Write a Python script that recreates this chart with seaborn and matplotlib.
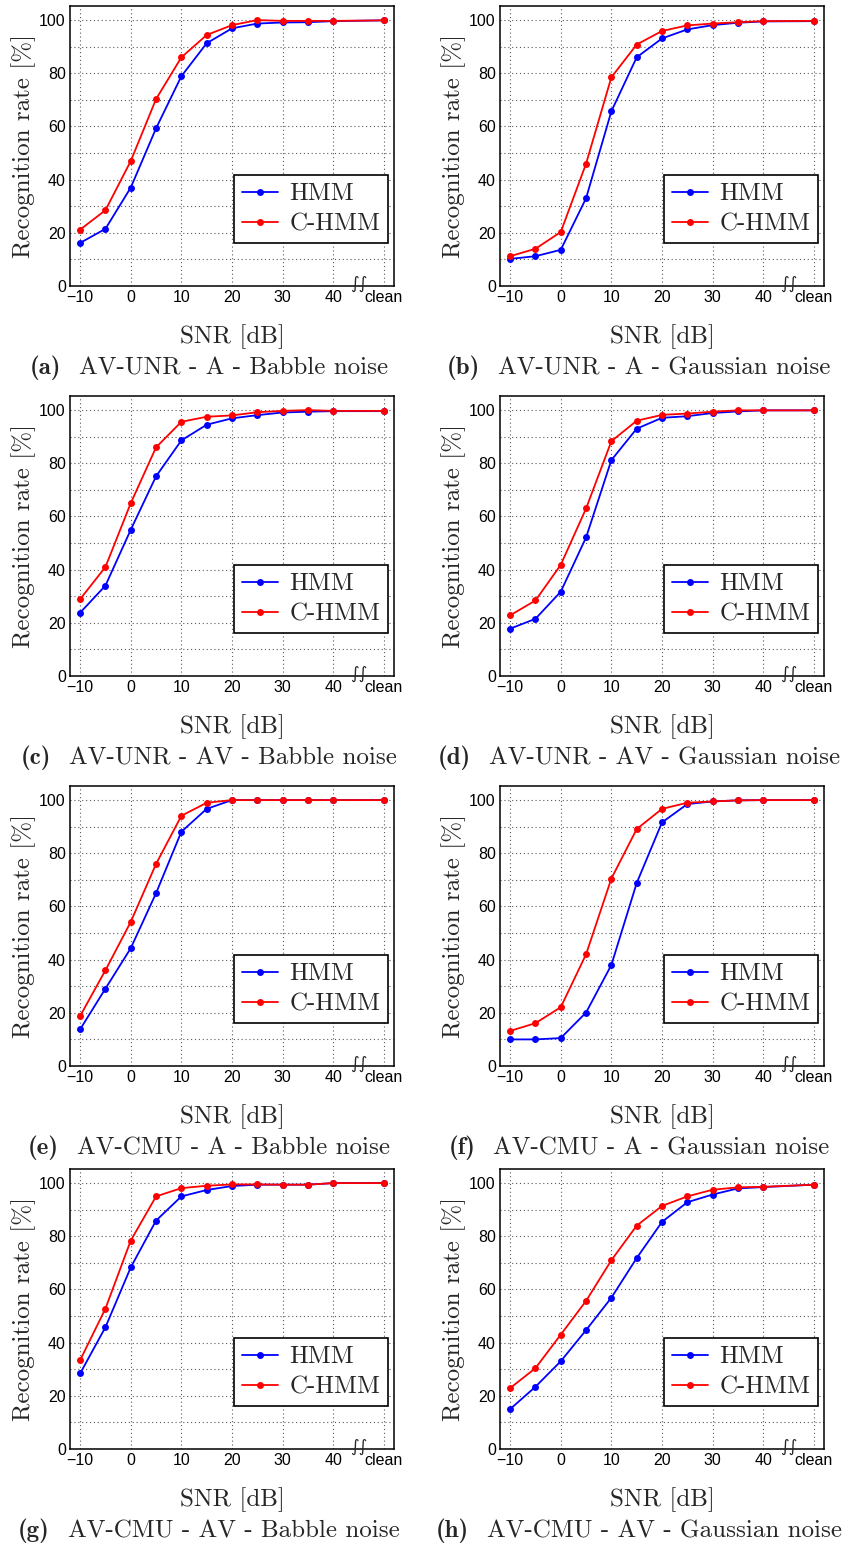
import matplotlib
matplotlib.use("Agg")
import matplotlib.pyplot as plt
import seaborn as sns
import pandas as pd
from matplotlib.ticker import MultipleLocator
from matplotlib.offsetbox import TextArea, HPacker, AnnotationBbox

sns.set_style("white")
plt.rcParams["font.family"] = ["Liberation Sans", "DejaVu Sans"]
plt.rcParams["mathtext.fontset"] = "cm"
plt.rcParams["axes.unicode_minus"] = True

# ---------------- data ----------------
snr_labels = ["−10", "−5", "0", "5", "10", "15", "20", "25", "30", "35", "40", "clean"]
snr_values = [-10, -5, 0, 5, 10, 15, 20, 25, 30, 35, 40, 50]   # "clean" placed after the axis break
xtick_values = [-10, 0, 10, 20, 30, 40, 50]
xtick_labels = ["−10", "0", "10", "20", "30", "40", "clean"]

hmm_a = [16.2, 21.5, 37.0, 59.3, 78.9, 91.3, 96.9, 98.7, 99.1, 99.2, 99.6, 99.9]
chmm_a = [21.2, 28.5, 47.0, 70.3, 86.0, 94.4, 98.1, 100.0, 99.7, 99.7, 99.7, 99.9]

hmm_b = [10.2, 11.2, 13.6, 33.0, 65.7, 86.0, 93.1, 96.5, 98.1, 99.0, 99.5, 99.6]
chmm_b = [11.2, 14.0, 20.3, 46.0, 78.5, 90.8, 95.9, 98.0, 98.7, 99.2, 99.6, 99.7]

hmm_c = [23.8, 34.0, 55.0, 75.1, 88.6, 94.5, 96.9, 98.1, 99.1, 99.4, 99.6, 99.6]
chmm_c = [28.9, 41.0, 65.0, 86.0, 95.6, 97.5, 98.0, 99.2, 99.7, 100.0, 99.7, 99.7]

hmm_d = [17.8, 21.5, 31.7, 52.1, 81.2, 93.0, 97.1, 97.7, 98.9, 99.5, 99.9, 99.9]
chmm_d = [22.8, 28.4, 41.8, 63.0, 88.3, 96.0, 98.2, 98.7, 99.4, 99.9, 99.9, 99.9]

hmm_e = [13.8, 29.1, 44.3, 65.0, 88.1, 96.7, 100.0, 100.0, 100.0, 100.0, 100.0, 100.0]
chmm_e = [18.8, 36.0, 54.2, 76.0, 94.1, 99.0, 100.0, 100.0, 100.0, 100.0, 100.0, 100.0]

hmm_f = [10.0, 10.0, 10.5, 20.1, 38.0, 68.8, 91.6, 98.5, 99.5, 99.9, 100.0, 100.0]
chmm_f = [13.2, 16.1, 22.1, 42.0, 70.5, 89.1, 96.7, 99.0, 99.5, 99.9, 100.0, 100.0]

hmm_g = [28.4, 45.8, 68.3, 85.9, 95.0, 97.4, 98.9, 99.4, 99.4, 99.4, 100.0, 100.0]
chmm_g = [33.4, 52.8, 78.4, 95.0, 98.1, 99.0, 99.5, 99.5, 99.4, 99.4, 100.0, 100.0]

hmm_h = [15.0, 23.4, 33.0, 44.7, 56.9, 71.8, 85.4, 92.8, 95.7, 98.0, 98.5, 99.4]
chmm_h = [22.9, 30.4, 43.0, 55.7, 71.0, 84.0, 91.4, 95.0, 97.5, 98.4, 98.6, 99.4]

panel_letters = ["a", "b", "c", "d", "e", "f", "g", "h"]
panel_titles = [
    "AV-UNR - A - Babble noise", "AV-UNR - A - Gaussian noise",
    "AV-UNR - AV - Babble noise", "AV-UNR - AV - Gaussian noise",
    "AV-CMU - A - Babble noise", "AV-CMU - A - Gaussian noise",
    "AV-CMU - AV - Babble noise", "AV-CMU - AV - Gaussian noise",
]
hmm_series = [hmm_a, hmm_b, hmm_c, hmm_d, hmm_e, hmm_f, hmm_g, hmm_h]
chmm_series = [chmm_a, chmm_b, chmm_c, chmm_d, chmm_e, chmm_f, chmm_g, chmm_h]
series_names = ["HMM", "C-HMM"]
series_colors = {"HMM": "#0000ff", "C-HMM": "#ff0000"}

# ---------------- layout ----------------
W, H = 856, 1545
fig = plt.figure(figsize=(W / 100, H / 100), dpi=100)

col_left = [70, 500]
ax_w = 324
row_top = [6, 396, 786, 1169]
ax_h = 280

serif = "cmr10"
serif_bold = "cmb10"

for i in range(8):
    r, c = divmod(i, 2)
    left = col_left[c] / W
    bottom = 1 - (row_top[r] + ax_h) / H
    ax = fig.add_axes([left, bottom, ax_w / W, ax_h / H])

    df = pd.DataFrame({
        "snr": snr_values * 2,
        "rate": hmm_series[i] + chmm_series[i],
        "model": [series_names[0]] * len(snr_values) + [series_names[1]] * len(snr_values),
    })
    sns.lineplot(data=df, x="snr", y="rate", hue="model", palette=series_colors,
                 marker="o", markersize=5, markeredgewidth=0, linewidth=1.3,
                 ax=ax, legend=True, zorder=3)

    ax.set_xlim(-12, 52)
    ax.set_ylim(0, 105.3)
    ax.set_xticks(xtick_values)
    ax.set_xticklabels(xtick_labels)
    ax.yaxis.set_major_locator(MultipleLocator(20))
    ax.yaxis.set_minor_locator(MultipleLocator(10))
    ax.grid(True, which="major", axis="x", linestyle=(0, (1, 2.5)), color="0.35", linewidth=0.8)
    ax.grid(True, which="both", axis="y", linestyle=(0, (1, 2.5)), color="0.35", linewidth=0.8)
    ax.tick_params(axis="both", which="major", direction="in", length=4, width=0.8,
                   labelsize=11.5, pad=3, colors="black")
    ax.tick_params(axis="y", which="minor", length=0)
    for sp in ax.spines.values():
        sp.set_color("black")
        sp.set_linewidth(1.1)

    ax.set_xlabel("SNR [dB]", fontfamily=serif, fontsize=18, labelpad=14)
    ax.set_ylabel("Recognition rate [%]", fontfamily=serif, fontsize=18, labelpad=2.5)

    # axis-break mark before "clean"
    ax.annotate("∫∫", xy=(45, 0), xycoords="data", xytext=(0, 1.5), textcoords="offset points",
                ha="center", va="center", fontsize=12, fontfamily="DejaVu Sans",
                annotation_clip=False, zorder=5)

    leg = ax.legend(loc="lower right", bbox_to_anchor=(0.981, 0.154), borderaxespad=0,
                    prop={"family": serif, "size": 18}, frameon=True, fancybox=False,
                    handlelength=1.45, handletextpad=0.45, labelspacing=0.3,
                    borderpad=0.3, title=None)
    leg.get_frame().set_edgecolor("black")
    leg.get_frame().set_linewidth(1.2)
    leg.get_frame().set_alpha(1)

    # caption: bold panel letter + roman title, centered below the panel
    cx = (col_left[c] + ax_w / 2 - 23) / W
    cy = 1 - (row_top[r] + ax_h + 82) / H
    t1 = TextArea("(" + panel_letters[i] + ")", textprops=dict(fontfamily=serif_bold, fontsize=18))
    t2 = TextArea(panel_titles[i], textprops=dict(fontfamily=serif, fontsize=18))
    box = HPacker(children=[t1, t2], align="baseline", pad=0, sep=13)
    ab = AnnotationBbox(box, (cx, cy), xycoords="figure fraction", frameon=False,
                        box_alignment=(0.5, 0.5), pad=0)
    fig.add_artist(ab)

fig.savefig("out.png", dpi=100)
